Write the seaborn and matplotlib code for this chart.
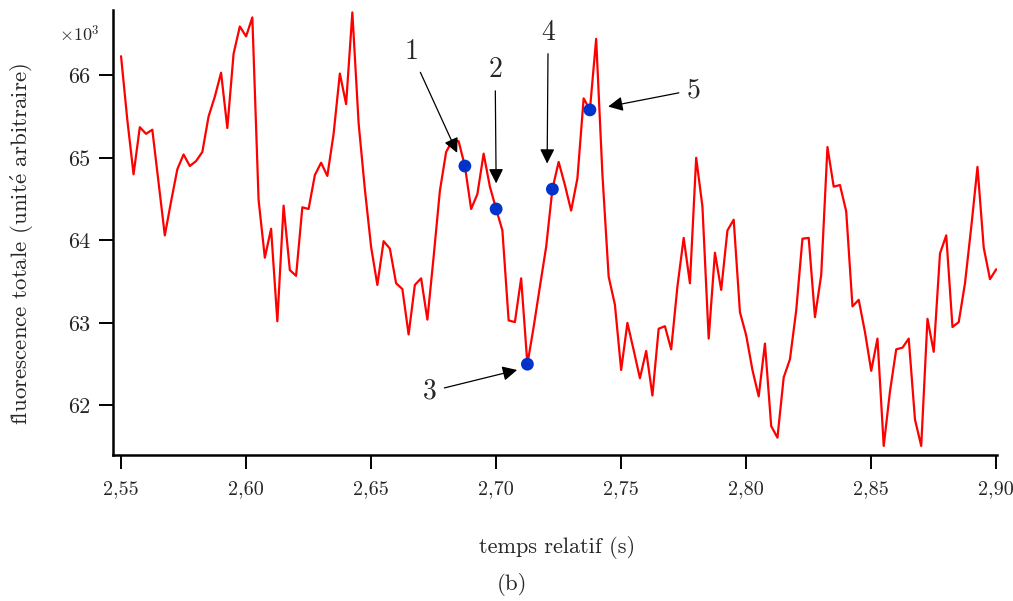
import numpy as np
import pandas as pd
import matplotlib
matplotlib.use("Agg")
import matplotlib.pyplot as plt
import seaborn as sns

# ---- data (fluorescence in units of 10^3) ----
t_start = 2.55
dt = 0.0025
fluo = [
    66.23, 65.46, 64.80, 65.37, 65.29, 65.34, 64.70, 64.06, 64.47, 64.86,
    65.04, 64.90, 64.96, 65.07, 65.50, 65.74, 66.03, 65.36, 66.26, 66.59,
    66.47, 66.70, 64.49, 63.79, 64.14, 63.02, 64.42, 63.64, 63.57, 64.40,
    64.38, 64.79, 64.94, 64.78, 65.29, 66.02, 65.65, 66.76, 65.42, 64.62,
    63.92, 63.46, 63.99, 63.90, 63.48, 63.41, 62.86, 63.46, 63.54, 63.04,
    63.80, 64.60, 65.07, 65.21, 65.20, 64.90, 64.38, 64.56, 65.05, 64.65,
    64.38, 64.12, 63.03, 63.01, 63.54, 62.50, 62.95, 63.44, 63.92, 64.62,
    64.95, 64.67, 64.36, 64.75, 65.72, 65.58, 66.44, 64.80, 63.56, 63.22,
    62.43, 63.00, 62.67, 62.33, 62.66, 62.12, 62.93, 62.96, 62.68, 63.44,
    64.03, 63.48, 65.00, 64.41, 62.81, 63.85, 63.40, 64.12, 64.25, 63.13,
    62.85, 62.43, 62.11, 62.75, 61.75, 61.61, 62.34, 62.56, 63.15, 64.02,
    64.03, 63.07, 63.58, 65.13, 64.65, 64.67, 64.35, 63.20, 63.28, 62.89,
    62.42, 62.81, 61.51, 62.17, 62.68, 62.70, 62.81, 61.83, 61.51, 63.05,
    62.65, 63.84, 64.06, 62.95, 63.01, 63.48, 64.16, 64.89, 63.91, 63.53,
    63.65,
]
time = t_start + dt * np.arange(len(fluo))

marked_idx = [55, 60, 65, 69, 75]
marked_labels = ["1", "2", "3", "4", "5"]
# label text positions and arrow tips (data coords)
label_pos = [(2.6660, 66.28), (2.6996, 66.06), (2.6736, 62.17), (2.7208, 66.51), (2.7788, 65.82)]
arrow_tip = [(2.6844, 65.06), (2.7000, 64.69), (2.7084, 62.43), (2.7204, 64.93), (2.7448, 65.62)]

xticks = [2.55, 2.60, 2.65, 2.70, 2.75, 2.80, 2.85, 2.90]
xticklabels = ["2,55", "2,60", "2,65", "2,70", "2,75", "2,80", "2,85", "2,90"]
yticks = [62, 63, 64, 65, 66]
yticklabels = ["62", "63", "64", "65", "66"]

df = pd.DataFrame({"t": time, "f": fluo})
dm = pd.DataFrame({"t": time[marked_idx], "f": np.array(fluo)[marked_idx]})

sns.set_style("ticks")
plt.rcParams["font.family"] = ["cmr10", "DejaVu Serif"]
plt.rcParams["mathtext.fontset"] = "cm"
plt.rcParams["axes.formatter.use_mathtext"] = True

fig = plt.figure(figsize=(10.13, 6.01), dpi=100)
ax = fig.add_axes([0.1116, 0.2429, 0.9842 - 0.1116, 0.9834 - 0.2429])

sns.lineplot(data=df, x="t", y="f", ax=ax, color="#ff0000", linewidth=1.6)
sns.scatterplot(data=dm, x="t", y="f", ax=ax, color="#0033cc", s=85,
                edgecolor="none", zorder=5)

ax.set_xlim(2.5468, 2.9003)
ax.set_ylim(61.40, 66.79)
ax.set_xticks(xticks)
ax.set_xticklabels(xticklabels, fontsize=14.5)
ax.set_yticks(yticks)
ax.set_yticklabels(yticklabels, fontsize=16)
ax.tick_params(axis="both", direction="out", length=10, width=1.4, color="black")
ax.tick_params(axis="x", pad=8)
ax.tick_params(axis="y", pad=6)
for s in ["top", "right"]:
    ax.spines[s].set_visible(False)
for s in ["left", "bottom"]:
    ax.spines[s].set_linewidth(1.8)
    ax.spines[s].set_color("black")

ax.set_xlabel("temps relatif (s)", fontsize=16)
ax.xaxis.set_label_coords((557 - 113) / 884, -(547 - 455) / 445)
ax.set_ylabel("fluorescence totale (unit" + r"$\acute{\rm e}$" + " arbitraire)",
              fontsize=16.5)
ax.yaxis.set_label_coords(-(113 - 22) / 884, (455 - 244) / 445)
ax.xaxis.label.set_va("center")
ax.yaxis.label.set_va("center")

fig.text(100 / 1013, 1 - 34 / 601, r"$\times 10^3$", fontsize=13, ha="right", va="center")
fig.text(512 / 1013, 1 - 584 / 601, "(b)", fontsize=16.5, ha="center", va="center")

for lab, (tx, ty), (hx, hy) in zip(marked_labels, label_pos, arrow_tip):
    ax.annotate(lab, xy=(hx, hy), xytext=(tx, ty), fontsize=20,
                ha="center", va="center",
                arrowprops=dict(arrowstyle="-|>", color="black", lw=0.9,
                                mutation_scale=22, shrinkA=3, shrinkB=0))

fig.savefig("out.png", dpi=100)
